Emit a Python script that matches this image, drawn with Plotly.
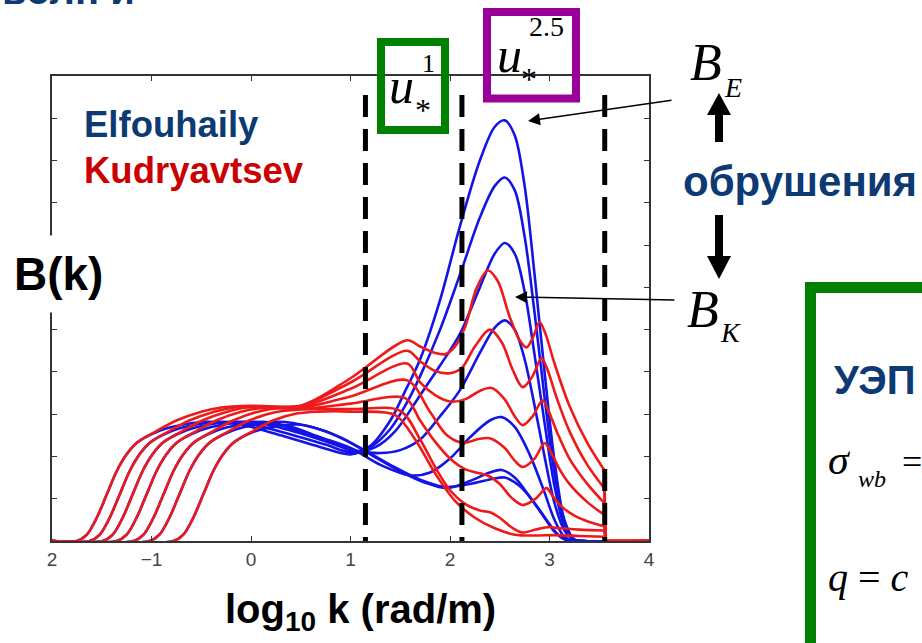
import plotly.graph_objects as go

# ---------------- data (log10 k, B(k) in arbitrary units) ----------------
# Elfouhaily spectra (blue), 7 wind speeds
elf_x_1 = [-2.0, -1.75, -1.65, -1.55, -1.45, -1.35, -1.25, -1.15, -0.95, -0.75, -0.45, -0.1, 0.3, 0.7, 1.0, 1.2, 1.4, 1.55, 1.7, 1.9, 2.1, 2.3, 2.45, 2.55, 2.65, 2.75, 2.85, 2.95, 3.05, 3.15, 3.25, 3.35, 4.0]
elf_y_1 = [0, 0, 0.15, 0.55, 1.1, 1.65, 2.05, 2.32, 2.58, 2.72, 2.82, 2.75, 2.5, 2.22, 2.05, 2.25, 2.85, 3.55, 4.3, 5.7, 7.45, 9.0, 9.8, 9.95, 9.6, 8.4, 6.3, 4.0, 1.9, 0.5, 0.03, 0, 0]
elf_x_2 = [-2.0, -1.62, -1.52, -1.42, -1.32, -1.22, -1.12, -1.02, -0.82, -0.62, -0.32, 0.0, 0.4, 0.75, 1.0, 1.2, 1.4, 1.55, 1.7, 1.9, 2.1, 2.3, 2.45, 2.55, 2.65, 2.75, 2.85, 2.95, 3.05, 3.15, 3.25, 3.35, 4.0]
elf_y_2 = [0, 0, 0.15, 0.55, 1.1, 1.65, 2.05, 2.32, 2.58, 2.72, 2.82, 2.76, 2.52, 2.28, 2.1, 2.22, 2.65, 3.2, 3.9, 5.0, 6.3, 7.65, 8.4, 8.6, 8.3, 7.2, 5.4, 3.4, 1.6, 0.45, 0.03, 0, 0]
elf_x_3 = [-2.0, -1.49, -1.39, -1.29, -1.19, -1.09, -0.99, -0.89, -0.69, -0.49, -0.19, 0.1, 0.45, 0.8, 1.05, 1.25, 1.45, 1.7, 1.9, 2.1, 2.3, 2.45, 2.55, 2.65, 2.75, 2.85, 2.95, 3.05, 3.15, 3.25, 3.35, 4.0]
elf_y_3 = [0, 0, 0.15, 0.55, 1.1, 1.65, 2.05, 2.32, 2.58, 2.72, 2.82, 2.78, 2.58, 2.32, 2.12, 2.22, 2.6, 3.45, 4.15, 4.9, 6.0, 6.8, 7.05, 6.8, 5.9, 4.4, 2.8, 1.3, 0.35, 0.03, 0, 0]
elf_x_4 = [-2.0, -1.35, -1.25, -1.15, -1.05, -0.95, -0.85, -0.75, -0.55, -0.35, -0.05, 0.25, 0.6, 0.9, 1.1, 1.3, 1.5, 1.7, 1.9, 2.1, 2.3, 2.45, 2.55, 2.65, 2.75, 2.85, 2.95, 3.05, 3.15, 3.25, 3.35, 4.0]
elf_y_4 = [0, 0, 0.15, 0.55, 1.1, 1.65, 2.05, 2.32, 2.58, 2.72, 2.82, 2.76, 2.5, 2.25, 2.12, 2.08, 2.15, 2.4, 2.95, 3.57, 4.45, 5.05, 5.22, 5.0, 4.3, 3.2, 2.0, 0.9, 0.25, 0.03, 0, 0]
elf_x_5 = [-2.0, -1.18, -1.08, -0.98, -0.88, -0.78, -0.68, -0.58, -0.38, -0.18, 0.12, 0.4, 0.7, 1.0, 1.3, 1.6, 1.8, 2.0, 2.2, 2.4, 2.52, 2.65, 2.8, 2.95, 3.05, 3.15, 3.25, 4.0]
elf_y_5 = [0, 0, 0.15, 0.55, 1.1, 1.65, 2.05, 2.32, 2.58, 2.72, 2.82, 2.7, 2.45, 2.2, 1.8, 1.55, 1.62, 1.95, 2.45, 2.85, 2.93, 2.7, 2.05, 1.15, 0.5, 0.1, 0, 0]
elf_x_6 = [-2.0, -1.02, -0.92, -0.82, -0.72, -0.62, -0.52, -0.42, -0.22, -0.02, 0.28, 0.6, 0.9, 1.2, 1.5, 1.75, 1.97, 2.2, 2.4, 2.52, 2.65, 2.8, 2.95, 3.05, 3.15, 3.25, 4.0]
elf_y_6 = [0, 0, 0.15, 0.55, 1.1, 1.65, 2.05, 2.32, 2.58, 2.72, 2.82, 2.7, 2.45, 2.05, 1.65, 1.38, 1.25, 1.42, 1.62, 1.68, 1.5, 1.05, 0.55, 0.22, 0.04, 0, 0]
elf_x_7 = [-2.0, -0.78, -0.68, -0.58, -0.48, -0.38, -0.28, -0.18, 0.02, 0.22, 0.5, 0.8, 1.1, 1.4, 1.7, 1.95, 2.2, 2.45, 2.55, 2.7, 2.85, 3.0, 3.1, 3.2, 3.3, 4.0]
elf_y_7 = [0, 0, 0.15, 0.55, 1.1, 1.65, 2.05, 2.32, 2.58, 2.7, 2.75, 2.55, 2.2, 1.8, 1.45, 1.28, 1.35, 1.48, 1.5, 1.3, 0.9, 0.4, 0.12, 0.02, 0, 0]

# Kudryavtsev spectra (red), 7 wind speeds (drawn up to the cut-off)
kud_x_1 = [-2.0, -1.75, -1.65, -1.55, -1.45, -1.35, -1.25, -1.15, -0.95, -0.75, -0.5, -0.3, 0.0, 0.5, 1.0, 1.57, 1.7, 1.85, 1.95, 2.05, 2.15, 2.27, 2.38, 2.48, 2.6, 2.7, 2.77, 2.84, 2.9, 2.96, 3.05, 3.2, 3.38, 3.55]
kud_y_1 = [0, 0, 0.15, 0.55, 1.1, 1.65, 2.05, 2.32, 2.6, 2.85, 3.06, 3.16, 3.2, 3.2, 3.85, 4.75, 4.6, 4.45, 4.42, 4.6, 5.05, 6.0, 6.4, 6.15, 5.3, 4.75, 4.58, 4.85, 5.18, 4.9, 4.2, 3.2, 2.32, 1.68]
kud_x_2 = [-2.0, -1.62, -1.52, -1.42, -1.32, -1.22, -1.12, -1.02, -0.82, -0.62, -0.37, -0.17, 0.1, 0.5, 1.0, 1.57, 1.7, 1.85, 2.0, 2.12, 2.25, 2.4, 2.52, 2.63, 2.73, 2.83, 2.92, 2.98, 3.07, 3.2, 3.38, 3.55]
kud_y_2 = [0, 0, 0.15, 0.55, 1.1, 1.65, 2.05, 2.32, 2.6, 2.85, 3.06, 3.16, 3.19, 3.2, 3.75, 4.5, 4.25, 4.02, 3.97, 4.1, 4.6, 5.0, 4.7, 4.05, 3.64, 3.9, 4.33, 4.05, 3.4, 2.6, 1.8, 1.25]
kud_x_3 = [-2.0, -1.49, -1.39, -1.29, -1.19, -1.09, -0.99, -0.89, -0.69, -0.49, -0.24, -0.04, 0.5, 1.0, 1.57, 1.7, 1.85, 2.0, 2.15, 2.3, 2.42, 2.55, 2.65, 2.73, 2.83, 2.93, 2.99, 3.08, 3.2, 3.38, 3.55]
kud_y_3 = [0, 0, 0.15, 0.55, 1.1, 1.65, 2.05, 2.32, 2.6, 2.85, 3.06, 3.16, 3.18, 3.6, 4.2, 3.75, 3.45, 3.3, 3.35, 3.55, 3.62, 3.35, 2.95, 2.74, 2.95, 3.33, 3.08, 2.55, 1.95, 1.35, 0.9]
kud_x_4 = [-2.0, -1.35, -1.25, -1.15, -1.05, -0.95, -0.85, -0.75, -0.55, -0.35, -0.1, 0.1, 0.5, 1.0, 1.57, 1.8, 1.97, 2.13, 2.3, 2.4, 2.55, 2.65, 2.73, 2.85, 2.95, 3.01, 3.1, 3.2, 3.38, 3.55]
kud_y_4 = [0, 0, 0.15, 0.55, 1.1, 1.65, 2.05, 2.32, 2.6, 2.85, 3.06, 3.14, 3.15, 3.42, 3.8, 3.05, 2.5, 2.32, 2.42, 2.43, 2.2, 1.9, 1.75, 1.95, 2.32, 2.12, 1.7, 1.35, 0.92, 0.62]
kud_x_5 = [-2.0, -1.18, -1.08, -0.98, -0.88, -0.78, -0.68, -0.58, -0.38, -0.18, 0.07, 0.27, 0.6, 1.0, 1.55, 1.7, 1.85, 2.0, 2.15, 2.3, 2.38, 2.5, 2.62, 2.73, 2.86, 2.97, 3.03, 3.12, 3.25, 3.4, 3.55]
kud_y_5 = [0, 0, 0.15, 0.55, 1.1, 1.65, 2.05, 2.32, 2.6, 2.85, 3.06, 3.14, 3.14, 3.25, 3.38, 2.85, 2.35, 1.95, 1.7, 1.6, 1.55, 1.35, 1.02, 0.85, 1.0, 1.25, 1.07, 0.82, 0.6, 0.45, 0.35]
kud_x_6 = [-2.0, -1.02, -0.92, -0.82, -0.72, -0.62, -0.52, -0.42, -0.22, -0.02, 0.23, 0.43, 1.0, 1.5, 1.7, 1.85, 2.0, 2.15, 2.3, 2.4, 2.5, 2.62, 2.73, 2.86, 3.0, 3.1, 3.3, 3.55]
kud_y_6 = [0, 0, 0.15, 0.55, 1.1, 1.65, 2.05, 2.32, 2.6, 2.85, 3.04, 3.1, 3.12, 3.08, 2.4, 1.75, 1.2, 0.88, 0.72, 0.68, 0.55, 0.32, 0.2, 0.27, 0.33, 0.3, 0.27, 0.25]
kud_x_7 = [-2.0, -0.78, -0.68, -0.58, -0.48, -0.38, -0.28, -0.18, 0.02, 0.22, 0.47, 0.67, 1.0, 1.45, 1.65, 1.85, 2.05, 2.25, 2.45, 2.65, 2.85, 3.05, 3.3, 3.55]
kud_y_7 = [0, 0, 0.15, 0.55, 1.1, 1.65, 2.05, 2.32, 2.6, 2.85, 3.02, 3.06, 3.06, 2.98, 2.4, 1.6, 0.95, 0.55, 0.3, 0.15, 0.13, 0.14, 0.12, 0.1]

kud_cutoff = 3.565              # log10 k where the Kudryavtsev spectrum is cut
breaking_logk = [1.15, 2.12, 3.555]   # dashed vertical lines
dash_top = 10.55

x_tickvals = [-2, -1, 0, 1, 2, 3, 4]
x_ticktext = ["2", "\u22121", "0", "1", "2", "3", "4"]
y_tickvals = list(range(0, 12))

elf_curves = [(elf_x_1, elf_y_1), (elf_x_2, elf_y_2), (elf_x_3, elf_y_3), (elf_x_4, elf_y_4),
              (elf_x_5, elf_y_5), (elf_x_6, elf_y_6), (elf_x_7, elf_y_7)]
kud_curves = [(kud_x_1, kud_y_1), (kud_x_2, kud_y_2), (kud_x_3, kud_y_3), (kud_x_4, kud_y_4),
              (kud_x_5, kud_y_5), (kud_x_6, kud_y_6), (kud_x_7, kud_y_7)]

# ---------------- styling ----------------
BLUE = "#1414e6"
RED = "#ee1a1a"
NAVY = "#0d3a73"
RED_TXT = "#cc0000"
GREEN = "#008000"
PURPLE = "#990099"
SANS = "Liberation Sans, Arial, sans-serif"
SERIF = "Liberation Serif, Times New Roman, serif"

FIG_W, FIG_H = 922, 643
L, R, T, B = 52, 649, 76, 541


def fx(p):
    return (p - L) / (R - L)


def fy(p):
    return (B - p) / (B - T)


fig = go.Figure()

for xs, ys in elf_curves:
    fig.add_trace(go.Scatter(x=xs, y=ys, mode="lines",
                             line=dict(color=BLUE, width=2.6, shape="spline", smoothing=0.9),
                             hoverinfo="skip", showlegend=False))

for xs, ys in kud_curves:
    fig.add_trace(go.Scatter(x=xs, y=ys, mode="lines",
                             line=dict(color=RED, width=2.6, shape="spline", smoothing=0.9),
                             hoverinfo="skip", showlegend=False))
    fig.add_trace(go.Scatter(x=[xs[-1], kud_cutoff, x_tickvals[-1]], y=[ys[-1], 0, 0], mode="lines",
                             line=dict(color=RED, width=2.6),
                             hoverinfo="skip", showlegend=False))

for xv in breaking_logk:
    fig.add_trace(go.Scatter(x=[xv, xv], y=[dash_top, 0], mode="lines",
                             line=dict(color="black", width=5, dash="22px,12px"),
                             hoverinfo="skip", showlegend=False))

annotations = []


def text(t, px, py, size, color="black", family=SANS, xanchor="center", yanchor="middle", **kw):
    d = dict(text=t, x=fx(px), y=fy(py), xref="paper", yref="paper", showarrow=False,
             font=dict(size=size, color=color, family=family), xanchor=xanchor, yanchor=yanchor)
    d.update(kw)
    annotations.append(d)


text("<b>Elfouhaily</b>", 82, 125, 36.5, NAVY, xanchor="left")
text("<b>Kudryavtsev</b>", 82, 170, 36.5, RED_TXT, xanchor="left")
text("<b>B(k)</b>", 58, 274, 46, "black", bgcolor="white", borderpad=12)
text("<b>log<sub>10</sub> k (rad/m)</b>", 360, 612, 40, "black")
text("<b>обрушения</b>", 800, 181, 42, NAVY)
text("<b>УЭП</b>", 832, 380, 40, NAVY, xanchor="left")
text("<b>волн и</b>", 0, 14, 40, NAVY, xanchor="left", yanchor="bottom")

# u*^1 and u*^2.5
text("<i>u</i>", 402, 86, 50, "black", SERIF)
text("*", 423, 110, 32, "black", SERIF)
text("1", 428, 64, 26, "black", SERIF)
text("<i>u</i>", 509, 55, 50, "black", SERIF)
text("*", 529, 79, 32, "black", SERIF)
text("2.5", 546, 27, 28, "black", SERIF)

# B_E, B_K
text("<i>B</i>", 706, 63, 52, "black", SERIF)
text("<i>E</i>", 733, 87, 28, "black", SERIF)
text("<i>B</i>", 703, 309, 52, "black", SERIF)
text("<i>K</i>", 730, 332, 28, "black", SERIF)

# formulas in the right box
text("<i>σ</i>", 826, 460, 42, "black", SERIF, xanchor="left")
text("<i>wb</i>", 856, 479, 24, "black", SERIF, xanchor="left")
text("=", 900, 462, 36, "black", SERIF, xanchor="left")
text("<i>q</i> = <i>c</i>", 826, 577, 40, "black", SERIF, xanchor="left")

# thin arrows
for hx, hy, tx, ty in [(528, 121, 673, 100), (515, 297, 676, 300)]:
    annotations.append(dict(x=fx(hx), y=fy(hy), xref="paper", yref="paper", text="",
                            showarrow=True, arrowhead=2, arrowsize=1.6, arrowwidth=1.5,
                            arrowcolor="black", ax=tx - hx, ay=ty - hy))

shapes = []


def rect(x0, y0, x1, y1, color, width):
    shapes.append(dict(type="rect", xref="paper", yref="paper",
                       x0=fx(x0), x1=fx(x1), y0=fy(y0), y1=fy(y1),
                       line=dict(color=color, width=width), fillcolor="rgba(0,0,0,0)"))


rect(381, 42, 445, 130, GREEN, 8)
rect(487, 12, 576, 98.5, PURPLE, 8)
rect(810.5, 287.5, 1000, 720, GREEN, 11)


def poly(pts, color="black"):
    path = "M " + " L ".join(f"{fx(a):.5f},{fy(b):.5f}" for a, b in pts) + " Z"
    shapes.append(dict(type="path", xref="paper", yref="paper", path=path,
                       fillcolor=color, line=dict(width=0)))


# thick up / down arrows
poly([(715, 142), (723, 142), (723, 115), (731, 115), (719, 93), (707, 115), (715, 115)])
poly([(715, 215), (723, 215), (723, 256), (731, 256), (719, 279), (707, 256), (715, 256)])

fig.update_layout(
    width=FIG_W, height=FIG_H,
    margin=dict(l=L, r=FIG_W - R, t=T, b=FIG_H - B, pad=0),
    paper_bgcolor="white", plot_bgcolor="white",
    xaxis=dict(range=[-2, 4], tickvals=x_tickvals, ticktext=x_ticktext, ticks="inside", ticklen=5,
               tickcolor="#333", showline=True, linecolor="#333", linewidth=1.5, mirror="ticks",
               showgrid=False, zeroline=False, ticklabelstandoff=0,
               tickfont=dict(size=19, color="#444", family=SANS)),
    yaxis=dict(range=[0, 11], tickvals=y_tickvals, showticklabels=False, ticks="inside", ticklen=5,
               tickcolor="#333", showline=True, linecolor="#333", linewidth=1.5, mirror="ticks",
               showgrid=False, zeroline=False),
    annotations=annotations,
    shapes=shapes,
    showlegend=False,
)

fig.write_html("out.html")
